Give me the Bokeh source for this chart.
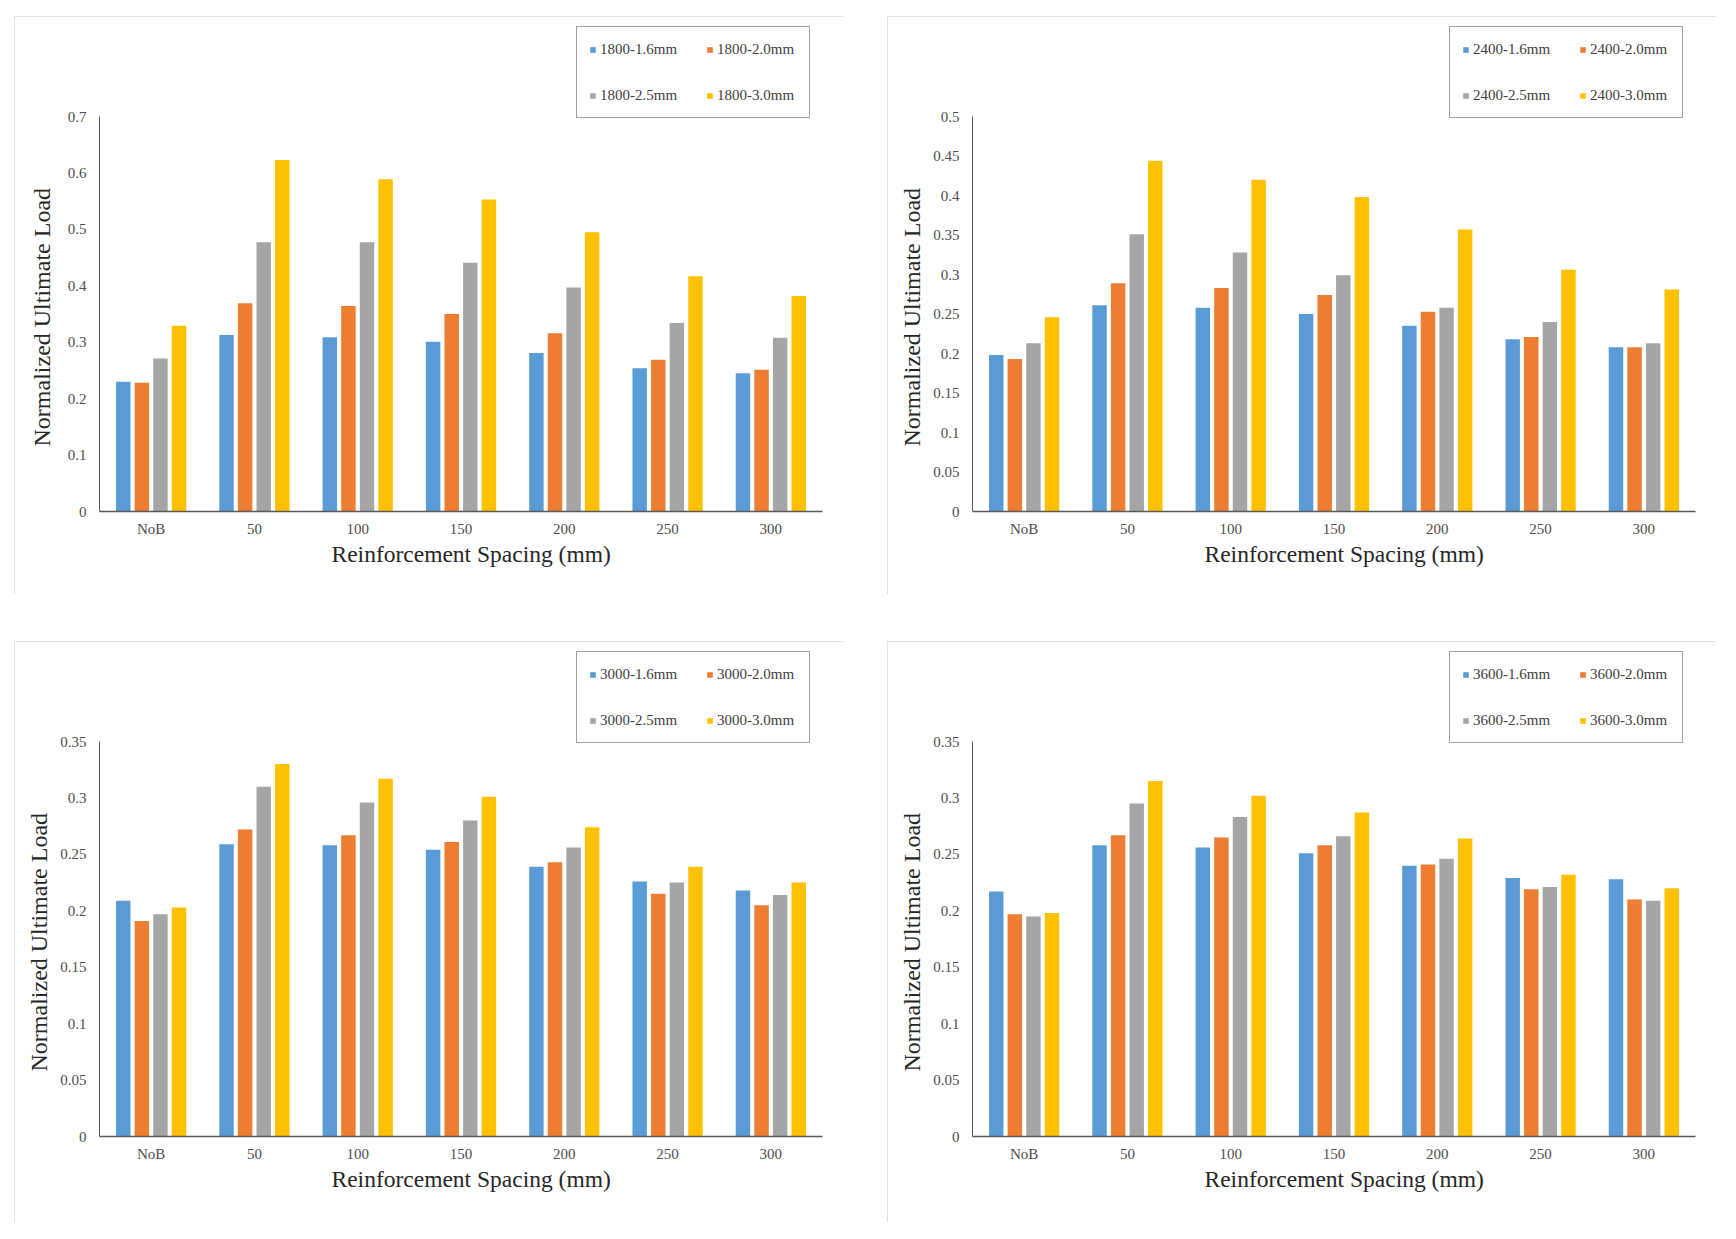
from bokeh.plotting import figure
from bokeh.models import ColumnDataSource, FactorRange, Range1d, FixedTicker, CustomJSTickFormatter, Legend, LegendItem, Title
from bokeh.transform import dodge
from bokeh.layouts import column, row
from bokeh.embed import file_html
from bokeh.resources import INLINE

cats = ["NoB", "50", "100", "150", "200", "250", "300"]

s1800_16 = [0.230, 0.313, 0.309, 0.301, 0.281, 0.254, 0.245]
s1800_20 = [0.228, 0.369, 0.364, 0.350, 0.316, 0.269, 0.251]
s1800_25 = [0.271, 0.477, 0.477, 0.441, 0.397, 0.334, 0.308]
s1800_30 = [0.329, 0.623, 0.589, 0.553, 0.495, 0.417, 0.382]

s2400_16 = [0.198, 0.261, 0.258, 0.250, 0.235, 0.218, 0.208]
s2400_20 = [0.193, 0.289, 0.283, 0.274, 0.253, 0.221, 0.208]
s2400_25 = [0.213, 0.351, 0.328, 0.299, 0.258, 0.240, 0.213]
s2400_30 = [0.246, 0.444, 0.420, 0.398, 0.357, 0.306, 0.281]

s3000_16 = [0.209, 0.259, 0.258, 0.254, 0.239, 0.226, 0.218]
s3000_20 = [0.191, 0.272, 0.267, 0.261, 0.243, 0.215, 0.205]
s3000_25 = [0.197, 0.310, 0.296, 0.280, 0.256, 0.225, 0.214]
s3000_30 = [0.203, 0.330, 0.317, 0.301, 0.274, 0.239, 0.225]

s3600_16 = [0.217, 0.258, 0.256, 0.251, 0.240, 0.229, 0.228]
s3600_20 = [0.197, 0.267, 0.265, 0.258, 0.241, 0.219, 0.210]
s3600_25 = [0.195, 0.295, 0.283, 0.266, 0.246, 0.221, 0.209]
s3600_30 = [0.198, 0.315, 0.302, 0.287, 0.264, 0.232, 0.220]

ticks_07 = [0, 0.1, 0.2, 0.3, 0.4, 0.5, 0.6, 0.7]
ticks_05 = [0, 0.05, 0.1, 0.15, 0.2, 0.25, 0.3, 0.35, 0.4, 0.45, 0.5]
ticks_035 = [0, 0.05, 0.1, 0.15, 0.2, 0.25, 0.3, 0.35]

thick_labels = ["1.6mm", "2.0mm", "2.5mm", "3.0mm"]
colors = ["#5B9BD5", "#ED7D31", "#A5A5A5", "#FFC000"]
offsets = [-0.27, -0.09, 0.09, 0.27]
bar_w = 0.14

FONT = "Liberation Serif"
X_TITLE = "Reinforcement Spacing (mm)"
Y_TITLE = "Normalized Ultimate Load"

panels = [
    dict(name="1800", series=[s1800_16, s1800_20, s1800_25, s1800_30], ymax=0.7, ticks=ticks_07,
         h=578, ystand=20),
    dict(name="2400", series=[s2400_16, s2400_20, s2400_25, s2400_30], ymax=0.5, ticks=ticks_05,
         h=578, ystand=11),
    dict(name="3000", series=[s3000_16, s3000_20, s3000_25, s3000_30], ymax=0.35, ticks=ticks_035,
         h=581, ystand=11),
    dict(name="3600", series=[s3600_16, s3600_20, s3600_25, s3600_30], ymax=0.35, ticks=ticks_035,
         h=581, ystand=11),
]

TOP = 10        # frame top (px from panel top); legend sits in the frame's upper part
AXIS_TOP = 100  # where the axis maximum lies (px from panel top)
AXIS_BOT = 495  # zero line (px from panel top)


def make_panel(cfg):
    data = {"cat": cats}
    for i, s in enumerate(cfg["series"]):
        data[f"s{i}"] = s
    src = ColumnDataSource(data)
    frame_h = AXIS_BOT - TOP
    y_end = cfg["ymax"] * frame_h / (AXIS_BOT - AXIS_TOP)
    p = figure(width=829, height=cfg["h"], x_range=FactorRange(factors=cats, range_padding=0),
               y_range=Range1d(0, y_end), output_backend="svg", toolbar_location=None,
               min_border_left=85, min_border_right=21, min_border_top=TOP,
               min_border_bottom=cfg["h"] - AXIS_BOT,
               styles={"outline": "1px solid #d9d9d9", "outline-offset": "-1px"})
    p.outline_line_color = None
    p.xgrid.grid_line_color = None
    p.ygrid.grid_line_color = None
    p.background_fill_color = "white"
    p.border_fill_color = "white"

    items = []
    for i in range(4):
        r = p.vbar(x=dodge("cat", offsets[i], range=p.x_range), top=f"s{i}", width=bar_w,
                   source=src, fill_color=colors[i], line_color=None)
        items.append(LegendItem(label=f"{cfg['name']}-{thick_labels[i]}", renderers=[r]))

    p.yaxis.ticker = FixedTicker(ticks=cfg["ticks"])
    p.yaxis.bounds = (0, cfg["ymax"])
    p.yaxis.formatter = CustomJSTickFormatter(code="return Number(tick.toFixed(2)).toString();")
    for ax in (p.xaxis[0], p.yaxis[0]):
        ax.major_tick_line_color = None
        ax.minor_tick_line_color = None
        ax.major_label_text_font = FONT
        ax.major_label_text_font_size = "15px"
        ax.major_label_text_color = "#4d4d4d"
    p.xaxis.axis_line_color = "#595959"
    p.xaxis.axis_line_width = 1.5
    p.yaxis.axis_line_color = "#595959"
    p.yaxis.axis_line_width = 1
    p.xaxis.major_label_standoff = 3
    p.yaxis.major_label_standoff = 7

    ytitle = Title(text=Y_TITLE, align="left", offset=65, standoff=cfg["ystand"],
                   text_font=FONT, text_font_size="24px", text_font_style="normal",
                   text_color="#262626")
    p.add_layout(ytitle, "left")
    xtitle = Title(text=X_TITLE, align="left", offset=232, standoff=-1,
                   text_font=FONT, text_font_size="23.5px", text_font_style="normal",
                   text_color="#262626")
    p.add_layout(xtitle, "below")

    leg = Legend(items=items, location=(477, AXIS_BOT - 102), orientation="horizontal", ncols=2,
                 glyph_width=7, glyph_height=7, label_height=20, label_width=80,
                 label_standoff=4, spacing=26, padding=12, margin=0,
                 label_text_font=FONT, label_text_font_size="15px", label_text_color="#404040",
                 border_line_color="#404040", border_line_width=1.5,
                 background_fill_color="white", background_fill_alpha=1.0)
    p.add_layout(leg, "center")
    return p


figs = [make_panel(c) for c in panels]
lay = column(row(figs[0], figs[1], spacing=44), row(figs[2], figs[3], spacing=44),
             spacing=47, margin=(16, 0, 0, 14))

open("out.html", "w").write(file_html(lay, INLINE))
